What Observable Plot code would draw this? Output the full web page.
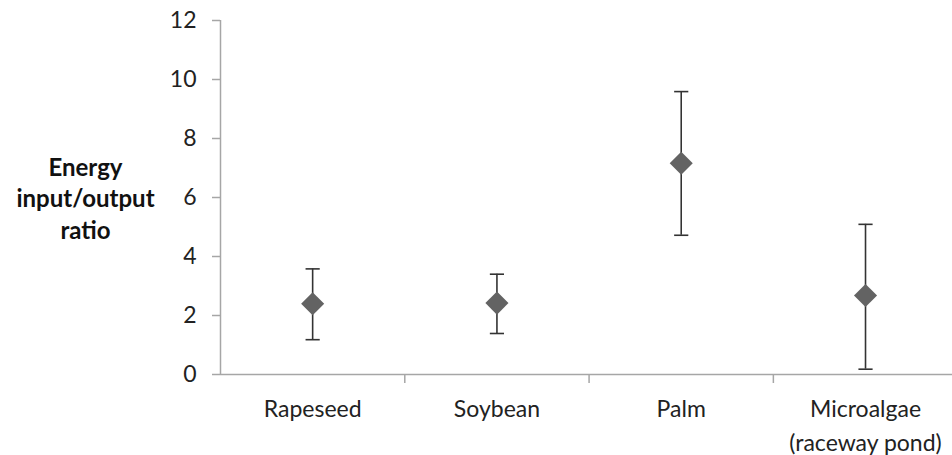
<!DOCTYPE html>
<html>
<head>
<meta charset="utf-8">
<script src="https://cdn.jsdelivr.net/npm/d3@7"></script>
<script src="https://cdn.jsdelivr.net/npm/@observablehq/plot@0.6"></script>
<style>
  html, body { margin: 0; padding: 0; background: #fff; }
  #chart svg { display: block; }
</style>
</head>
<body>
<div id="chart"></div>
<script>
const categories = ["Rapeseed", "Soybean", "Palm", "Microalgae"];
const tickLabels = ["Rapeseed", "Soybean", "Palm", "Microalgae\n(raceway pond)"];
const means = [2.40, 2.42, 7.16, 2.68];
const lows = [1.18, 1.39, 4.72, 0.18];
const highs = [3.58, 3.40, 9.59, 5.09];
const yTicks = [0, 2, 4, 6, 8, 10, 12];
const yLabel = "Energy\ninput/output\nratio";

const data = categories.map((c, i) => ({
  cat: c, label: tickLabels[i], pos: i + 0.5,
  mean: means[i], low: lows[i], high: highs[i]
}));

const capSymbol = {
  draw(context, size) {
    const w = Math.sqrt(size);
    context.moveTo(-w / 2, 0);
    context.lineTo(w / 2, 0);
  }
};

const font = "Lato, 'Open Sans', sans-serif";
const axisColor = "#a6a6a6";
const barColor = "#333333";

try {
const chart = Plot.plot({
  width: 952,
  height: 455,
  marginTop: 20,
  marginBottom: 81,
  marginLeft: 220,
  marginRight: 0,
  style: { fontFamily: font, fontSize: "23px", color: "#222", background: "#fff" },
  x: { type: "linear", domain: [0, 3.972], axis: null },
  y: { type: "linear", domain: [0, 12], axis: null },
  marks: [
    Plot.ruleX([0], { y1: 0, y2: 12, stroke: axisColor, strokeWidth: 1.5 }),
    Plot.axisY({ ticks: yTicks, tickSize: 8, tickPadding: 16, stroke: axisColor, strokeWidth: 1.5, fill: "#222", fontSize: 23, label: null, anchor: "left" }),
    Plot.ruleY([0], { stroke: axisColor, strokeWidth: 1.5 }),
    Plot.axisX({ ticks: [1, 2, 3], tickSize: 9, tickFormat: () => "", stroke: axisColor, strokeWidth: 1.5, label: null, anchor: "bottom" }),
    Plot.text(data, { x: "pos", y: 0, text: "label", lineAnchor: "top", dy: 19, lineHeight: 1.45, fill: "#222", fontSize: 23 }),
    Plot.ruleX(data, { x: "pos", y1: "low", y2: "high", stroke: barColor, strokeWidth: 1.6 }),
    Plot.dot(data, { x: "pos", y: "low", symbol: capSymbol, r: 8, stroke: barColor, strokeWidth: 1.6, fill: "none" }),
    Plot.dot(data, { x: "pos", y: "high", symbol: capSymbol, r: 8, stroke: barColor, strokeWidth: 1.6, fill: "none" }),
    Plot.dot(data, { x: "pos", y: "mean", symbol: "diamond2", r: 10.4, fill: "#636363", stroke: "none" }),
    Plot.text([yLabel], { frameAnchor: "left", dx: -135, text: d => d, textAnchor: "middle", lineAnchor: "middle", lineHeight: 1.3, fontWeight: "bold", fontSize: 24, fill: "#111" })
  ]
});
document.getElementById("chart").appendChild(chart);
} catch (e) {
  document.body.insertAdjacentHTML("beforeend", "<pre>" + e + "</pre>");
}
</script>
</body>
</html>
